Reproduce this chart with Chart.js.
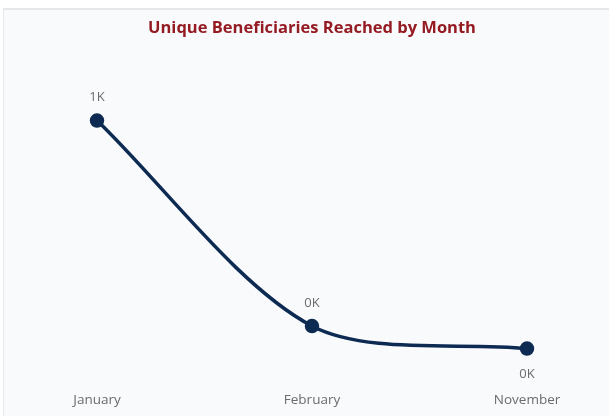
<!DOCTYPE html>
<html>
<head>
<meta charset="utf-8">
<script src="https://cdn.jsdelivr.net/npm/chart.js@4.4.1/dist/chart.umd.min.js"></script>
<style>
  html, body { margin: 0; padding: 0; background: #ffffff; }
  body { width: 611px; height: 416px; position: relative; overflow: hidden; }
  .card {
    position: absolute; left: 3px; top: 8px; width: 606px; height: 410px;
    background: #f9fafc; border-top: 2px solid #e6e7e9; border-left: 1px solid #e9eaec;
    box-sizing: border-box;
  }
  #wrap { position: absolute; left: 0; top: 0; width: 611px; height: 416px; }
</style>
</head>
<body>
<div class="card"></div>
<div id="wrap"><canvas id="c" width="611" height="416"></canvas></div>
<script>
const months = ["January", "February", "November"];
const beneficiaries = [960, 230, 150];
const valueLabels = ["1K", "0K", "0K"];
const labelBelow = [false, false, true];

const pointLabels = {
  id: "pointLabels",
  afterDatasetsDraw(chart) {
    const ctx = chart.ctx;
    const meta = chart.getDatasetMeta(0);
    ctx.save();
    ctx.font = "13px 'Open Sans', sans-serif";
    ctx.fillStyle = "#6b6b6b";
    ctx.textAlign = "center";
    ctx.textBaseline = "middle";
    meta.data.forEach((pt, i) => {
      const dy = labelBelow[i] ? 26 : -23;
      ctx.fillText(valueLabels[i], pt.x, pt.y + dy);
    });
    ctx.restore();
  }
};

new Chart(document.getElementById("c"), {
  type: "line",
  data: {
    labels: months,
    datasets: [{
      data: beneficiaries,
      borderColor: "#0c2a52",
      backgroundColor: "#0c2a52",
      borderWidth: 3.5,
      pointRadius: 5.5,
      pointHoverRadius: 5.5,
      tension: 0.3,
      fill: false
    }]
  },
  options: {
    responsive: false,
    animation: false,
    events: [],
    layout: { padding: { left: 97, right: 84, top: 0, bottom: 6 } },
    plugins: {
      legend: { display: false },
      tooltip: { enabled: false },
      title: {
        display: true,
        text: "Unique Beneficiaries Reached by Month",
        color: "#951b22",
        font: { family: "'Open Sans', sans-serif", size: 16.5, weight: "bold" },
        padding: { top: 18, bottom: 35.4 }
      }
    },
    scales: {
      x: {
        offset: false,
        grid: { display: false },
        border: { display: false },
        ticks: { color: "#6b6b6b", font: { family: "'Open Sans', sans-serif", size: 13.5 }, padding: 2 }
      },
      y: {
        display: false,
        min: 32,
        max: 1128
      }
    }
  },
  plugins: [pointLabels]
});
</script>
</body>
</html>
